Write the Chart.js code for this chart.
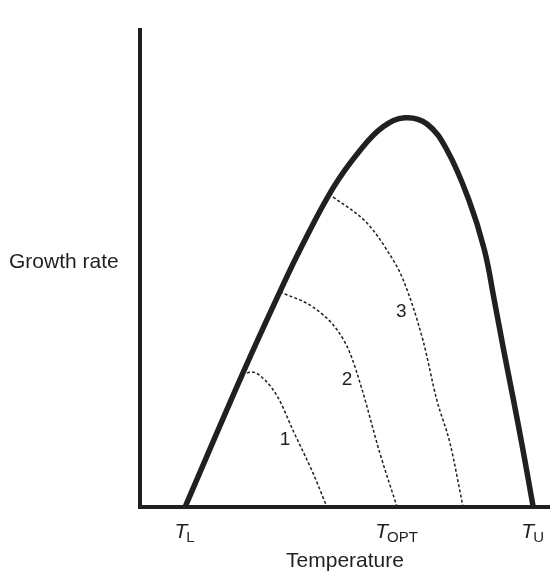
<!DOCTYPE html>
<html><head><meta charset="utf-8">
<script src="https://cdn.jsdelivr.net/npm/chart.js@4"></script>
<style>html,body{margin:0;padding:0;background:#fff}#wrap{width:550px;height:575px}</style>
</head><body><div id="wrap"><canvas id="c" width="550" height="575"></canvas></div>
<script>
// Main growth-rate envelope (temperature units, growth units)
const mainX = [11.0, 24.9, 34.1, 39.0, 47.1, 53.7, 59.3, 64.6, 70.0, 74.9, 80.2, 84.0, 86.4, 88.7, 91.1, 93.4, 95.9];
const mainY = [0, 27.7, 45.1, 53.9, 66.9, 74.8, 79.7, 81.6, 80.3, 74.8, 64.4, 53.9, 43.4, 32.9, 22.4, 12.0, 0];
// Dashed curves 1, 2, 3
const c1X = [24.9, 27.3, 30.5, 33.7, 37.3, 42.2, 45.6];
const c1Y = [27.7, 28.3, 26.6, 22.9, 16.1, 7.1, 0];
const c2X = [34.1, 42.2, 48.1, 51.2, 54.2, 58.5, 62.7];
const c2Y = [45.1, 41.9, 37.1, 32.3, 24.5, 11.3, 0];
const c3X = [47.1, 55.4, 60.2, 64.2, 69.0, 72.4, 75.6, 78.8];
const c3Y = [65.0, 59.5, 53.9, 47.6, 35.0, 22.4, 13.4, 0];
// Curve labels
const curveLabels = ['1', '2', '3'];
const curveLabelX = [35.4, 50.5, 63.7];
const curveLabelY = [14.0, 26.6, 40.9];
// Tick labels (T with subscript)
const tickValues = [11.0, 62.7, 95.9];
const tickBase = ['T', 'T', 'T'];
const tickSubs = ['L', 'OPT', 'U'];
const xTitle = 'Temperature';
const yTitle = 'Growth rate';

const INK = '#231f20';
const FONT = '"Liberation Sans", Arial, sans-serif';
const pts = (xs, ys) => xs.map((x, i) => ({x, y: ys[i]}));

const textPlugin = {
  id: 'texts',
  afterDraw(chart) {
    const ctx = chart.ctx, xs = chart.scales.x, ys = chart.scales.y;
    ctx.save();
    ctx.fillStyle = INK;
    // y title (horizontal)
    ctx.font = '21px ' + FONT;
    ctx.textBaseline = 'middle';
    ctx.textAlign = 'left';
    ctx.fillText(yTitle, 9, 262);
    // curve labels
    ctx.font = '19px ' + FONT;
    ctx.textAlign = 'center';
    curveLabels.forEach((t, i) => {
      ctx.fillText(t, xs.getPixelForValue(curveLabelX[i]), ys.getPixelForValue(curveLabelY[i]));
    });
    // tick labels
    ctx.textBaseline = 'alphabetic';
    ctx.textAlign = 'left';
    const baseY = chart.chartArea.bottom + 31;
    tickValues.forEach((v, i) => {
      const px = xs.getPixelForValue(v);
      ctx.font = 'italic 21px ' + FONT;
      const wb = ctx.measureText(tickBase[i]).width;
      ctx.font = '15px ' + FONT;
      const ws = ctx.measureText(tickSubs[i]).width;
      const x0 = px - (wb + ws) / 2;
      ctx.font = 'italic 21px ' + FONT;
      ctx.fillText(tickBase[i], x0, baseY);
      ctx.font = '15px ' + FONT;
      ctx.fillText(tickSubs[i], x0 + wb - 1, baseY + 4);
    });
    ctx.restore();
  }
};

const dashed = (xs, ys) => ({
  data: pts(xs, ys), borderColor: INK, borderWidth: 1.5, borderDash: [3, 2.2],
  pointRadius: 0, fill: false, cubicInterpolationMode: 'monotone', clip: false
});

new Chart(document.getElementById('c'), {
  type: 'line',
  data: {
    datasets: [
      { data: pts(mainX, mainY), borderColor: INK, borderWidth: 5.5, pointRadius: 0,
        fill: false, tension: 0.4, clip: false, borderCapStyle: 'butt', borderJoinStyle: 'round' },
      dashed(c1X, c1Y), dashed(c2X, c2Y), dashed(c3X, c3Y)
    ]
  },
  options: {
    responsive: false, animation: false, devicePixelRatio: 1,
    layout: { padding: { top: 30, right: 0, left: 0, bottom: 0 } },
    plugins: { legend: { display: false }, tooltip: { enabled: false } },
    scales: {
      x: {
        type: 'linear', min: 0, max: 100,
        grid: { display: false, drawTicks: false },
        border: { display: true, color: INK, width: 4 },
        ticks: { display: false },
        title: { display: true, text: xTitle, color: INK,
          font: { family: FONT, size: 21 },
          padding: { top: 0, bottom: 1 } },
        afterFit: s => { s.height = 68; }
      },
      y: {
        type: 'linear', min: 0, max: 100,
        grid: { display: false, drawTicks: false },
        border: { display: true, color: INK, width: 4 },
        ticks: { display: false },
        afterFit: s => { s.width = 140; }
      }
    }
  },
  plugins: [textPlugin]
});
</script></body></html>
